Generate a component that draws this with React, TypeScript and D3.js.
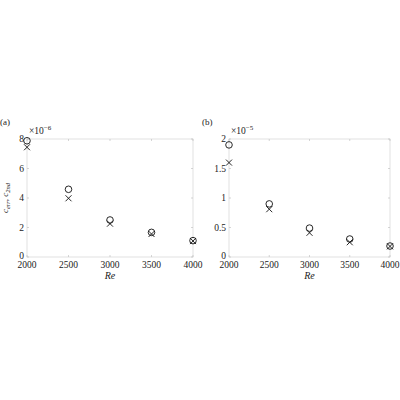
import * as React from 'react';
import * as d3 from 'd3';

// Reynolds numbers shared by both panels
const reValues = [2000, 2500, 3000, 3500, 4000];
const xTicks = [2000, 2500, 3000, 3500, 4000];

// panel (a), values in units of 1e-6
const aCircles = [7.88, 4.59, 2.51, 1.67, 1.11];
const aCrosses = [7.44, 3.98, 2.26, 1.56, 1.08];
const aTicks = [0, 2, 4, 6, 8];
const aTickLabels = ['0', '2', '4', '6', '8'];

// panel (b), values in units of 1e-5
const bCircles = [1.9, 0.9, 0.49, 0.305, 0.186];
const bCrosses = [1.6, 0.81, 0.41, 0.25, 0.18];
const bTicks = [0, 0.5, 1, 1.5, 2];
const bTickLabels = ['0', '0.5', '1', '1.5', '2'];

const FONT = '"Liberation Serif", "DejaVu Serif", serif';

interface PanelProps {
  left: number;
  right: number;
  tag: string;
  exponent: string;
  yMax: number;
  yTicks: number[];
  yTickLabels: string[];
  circles: number[];
  crosses: number[];
  yLabel?: boolean;
}

function Panel({ left, right, tag, exponent, yMax, yTicks, yTickLabels, circles, crosses, yLabel }: PanelProps) {
  const top = 139;
  const bottom = 257;
  const x = d3.scaleLinear().domain([2000, 4000]).range([left, right]);
  const y = d3.scaleLinear().domain([0, yMax]).range([bottom, top]);
  const r = 3.3;
  const c = 3;

  return (
    <g fontFamily={FONT}>
      <rect x={left} y={top} width={right - left} height={bottom - top} fill="none" stroke="#d9d9d9" strokeWidth={0.8} />
      {xTicks.map((t) => (
        <g key={'x' + t}>
          <line x1={x(t)} x2={x(t)} y1={bottom} y2={bottom - 2} stroke="#bbb" strokeWidth={0.6} />
          <line x1={x(t)} x2={x(t)} y1={top} y2={top + 2} stroke="#bbb" strokeWidth={0.6} />
          <text x={x(t)} y={bottom + 11} fontSize={9.5} textAnchor="middle" fill="#222">{t}</text>
        </g>
      ))}
      {yTicks.map((t, i) => (
        <g key={'y' + t}>
          <line x1={left} x2={left + 2} y1={y(t)} y2={y(t)} stroke="#bbb" strokeWidth={0.6} />
          <line x1={right} x2={right - 2} y1={y(t)} y2={y(t)} stroke="#bbb" strokeWidth={0.6} />
          <text x={left - 3} y={y(t) + (t === 0 ? 1.5 : 3)} fontSize={9.5} textAnchor="end" fill="#222">{yTickLabels[i]}</text>
        </g>
      ))}
      <text x={left + 2} y={top - 5} fontSize={9.5} fill="#222">
        ×10<tspan dy={-4} fontSize={7}>{exponent}</tspan>
      </text>
      <text x={left - 27} y={top - 14} fontSize={9} fill="#222">{tag}</text>
      <text x={(left + right) / 2} y={bottom + 22} fontSize={10} fontStyle="italic" textAnchor="middle" fill="#222">Re</text>
      {yLabel && (
        <text transform={`translate(${left - 19},${(top + bottom) / 2}) rotate(-90)`} fontSize={9} fontStyle="italic" textAnchor="middle" fill="#222">
          c<tspan dy={2} fontSize={6.5}>err</tspan><tspan dy={-2}>, c</tspan><tspan dy={2} fontSize={6.5}>2nd</tspan>
        </text>
      )}
      {reValues.map((re, i) => (
        <circle key={'c' + re} cx={x(re)} cy={y(circles[i])} r={r} fill="none" stroke="#111" strokeWidth={0.9} />
      ))}
      {reValues.map((re, i) => (
        <path
          key={'x' + re}
          d={`M${x(re) - c},${y(crosses[i]) - c}L${x(re) + c},${y(crosses[i]) + c}M${x(re) - c},${y(crosses[i]) + c}L${x(re) + c},${y(crosses[i]) - c}`}
          stroke="#111"
          strokeWidth={0.9}
          fill="none"
        />
      ))}
    </g>
  );
}

export default function App() {
  return (
    <svg width={400} height={400} style={{ position: 'absolute', left: 0, top: 0, background: '#fff' }}>
      <Panel left={27} right={193} tag="(a)" exponent="−6" yMax={8} yTicks={aTicks} yTickLabels={aTickLabels} circles={aCircles} crosses={aCrosses} yLabel />
      <Panel left={229} right={390} tag="(b)" exponent="−5" yMax={2} yTicks={bTicks} yTickLabels={bTickLabels} circles={bCircles} crosses={bCrosses} />
    </svg>
  );
}
